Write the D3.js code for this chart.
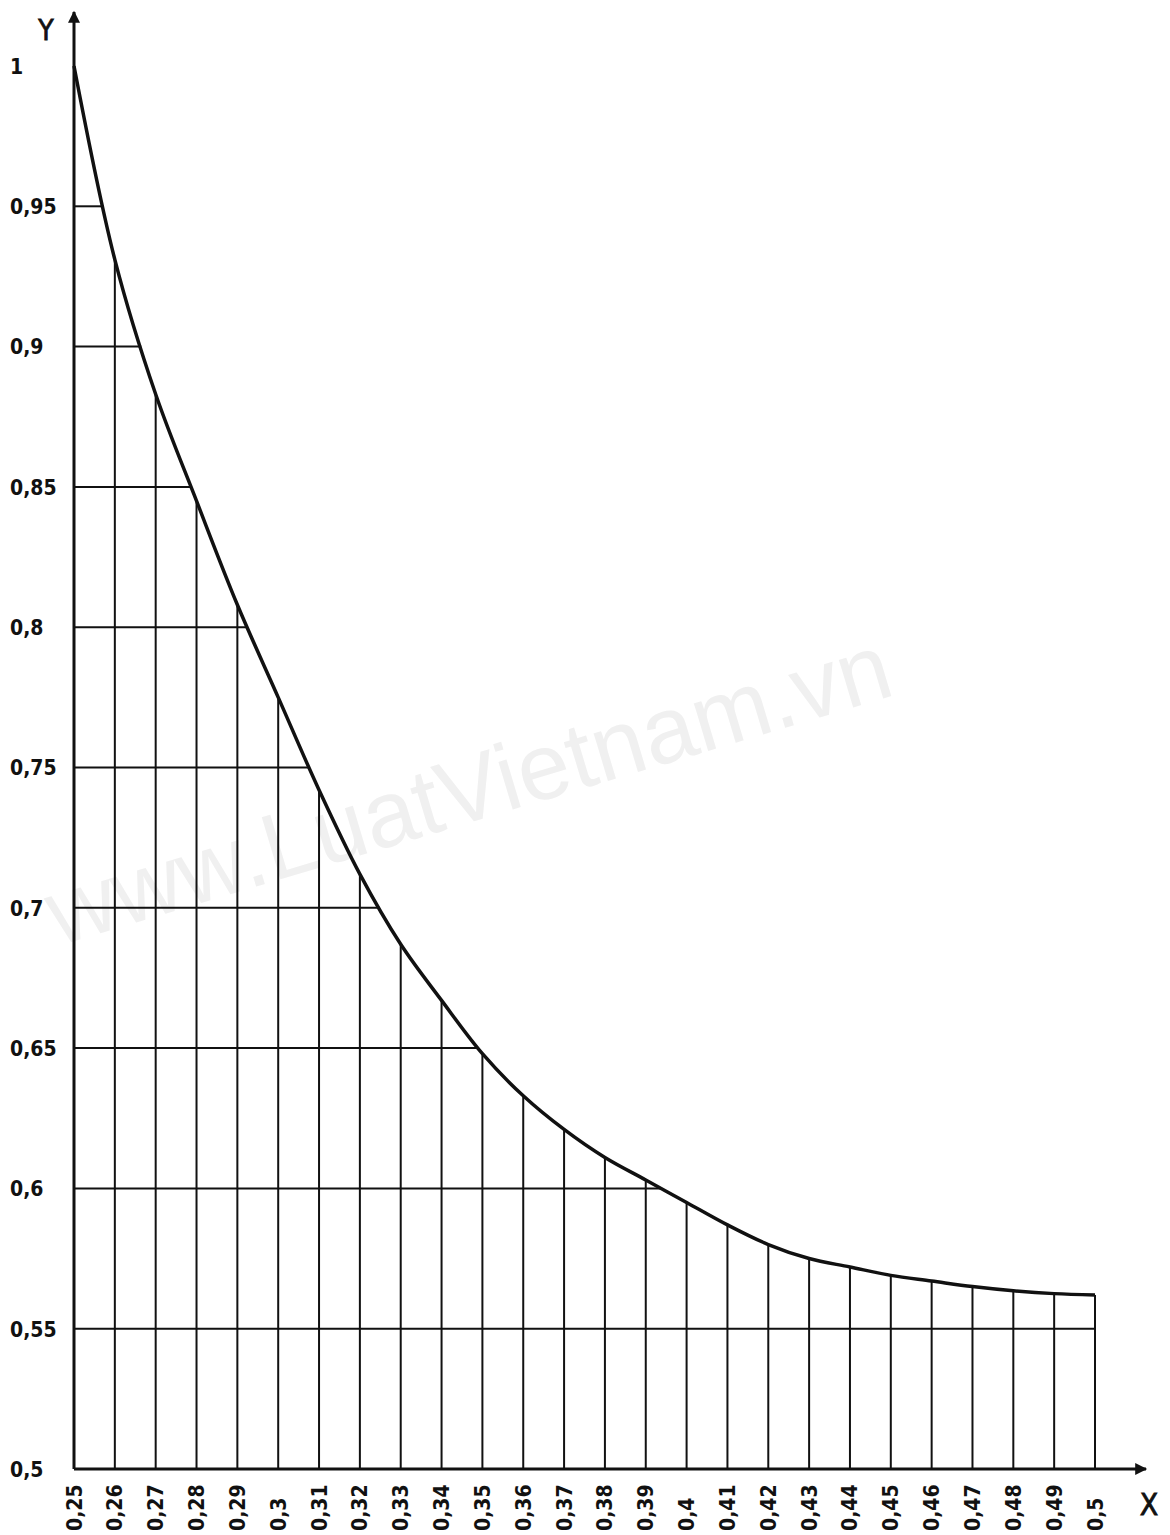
<!DOCTYPE html>
<html>
<head>
<meta charset="utf-8">
<script src="https://cdn.jsdelivr.net/npm/d3@7"></script>
<style>
  body { margin: 0; background: #fff; }
  svg { display: block; }
  .tick text { font-family: "DejaVu Sans Condensed", "DejaVu Sans", sans-serif; font-weight: bold; font-size: 21px; fill: #111; }
</style>
</head>
<body>
<svg id="chart"></svg>
<script>
// curve values
const xValues = [0.25, 0.26, 0.27, 0.28, 0.29, 0.3, 0.31, 0.32, 0.33, 0.34, 0.35, 0.36, 0.37,
  0.38, 0.39, 0.4, 0.41, 0.42, 0.43, 0.44, 0.45, 0.46, 0.47, 0.48, 0.49, 0.5];
const yValues = [1.0, 0.931, 0.883, 0.845, 0.808, 0.775, 0.742, 0.712, 0.687, 0.667, 0.648, 0.633, 0.621,
  0.611, 0.603, 0.595, 0.587, 0.58, 0.575, 0.572, 0.569, 0.567, 0.565, 0.5635, 0.5625, 0.562];
const yTicks = [0.5, 0.55, 0.6, 0.65, 0.7, 0.75, 0.8, 0.85, 0.9, 0.95, 1];
const xTicks = xValues;

const width = 1170, height = 1535;
const svg = d3.select("#chart").attr("width", width).attr("height", height);

const x = d3.scaleLinear().domain([0.25, 0.5]).range([74, 1095]);
const y = d3.scaleLinear().domain([0.5, 1]).range([1469, 66]);

const locale = d3.formatLocale({ decimal: ",", thousands: ".", grouping: [3], currency: ["", ""] });
const fmt = locale.format("~f");

const data = xValues.map((v, i) => ({ x: v, y: yValues[i] }));

// watermark
svg.append("text")
  .attr("transform", "translate(58,946) rotate(-16.7)")
  .attr("font-family", "Liberation Sans, Arial, sans-serif")
  .attr("font-size", 94)
  .attr("fill", "#f0f0f0")
  .text("www.LuatVietnam.vn");

// where the curve crosses a given y (linear between read points)
function crossX(v) {
  for (let i = 0; i < data.length - 1; i++) {
    const a = data[i], b = data[i + 1];
    if (v <= a.y && v >= b.y) {
      return a.x + (a.y - v) / (a.y - b.y) * (b.x - a.x);
    }
  }
  return 0.5; // below the curve's end: run to the last vertical
}

// horizontal lines from axis to curve
svg.append("g")
  .selectAll("line")
  .data(yTicks.filter(d => d > 0.5 && d < 1))
  .enter()
  .append("line")
  .attr("x1", x(0.25))
  .attr("x2", d => x(crossX(d)))
  .attr("y1", d => y(d))
  .attr("y2", d => y(d))
  .attr("stroke", "#111")
  .attr("stroke-width", 2);

// vertical lines from axis to curve
svg.append("g")
  .selectAll("line")
  .data(data.slice(1))
  .enter()
  .append("line")
  .attr("x1", d => x(d.x))
  .attr("x2", d => x(d.x))
  .attr("y1", y(0.5))
  .attr("y2", d => y(d.y))
  .attr("stroke", "#111")
  .attr("stroke-width", 2);

// curve
const line = d3.line()
  .x(d => x(d.x))
  .y(d => y(d.y))
  .curve(d3.curveCatmullRom.alpha(0.5));

svg.append("path")
  .datum(data)
  .attr("d", line)
  .attr("fill", "none")
  .attr("stroke", "#111")
  .attr("stroke-width", 3.5)
  .attr("stroke-linejoin", "round");

// arrow marker
svg.append("defs")
  .append("marker")
  .attr("id", "arrow")
  .attr("viewBox", "0 0 10 10")
  .attr("refX", 9)
  .attr("refY", 5)
  .attr("markerWidth", 5)
  .attr("markerHeight", 4)
  .attr("markerUnits", "strokeWidth")
  .attr("orient", "auto")
  .append("path")
  .attr("d", "M 0 0 L 10 5 L 0 10 z")
  .style("fill", "#111");

// axes lines
svg.append("line")
  .attr("x1", x(0.25)).attr("y1", y(0.5))
  .attr("x2", x(0.25)).attr("y2", 12)
  .attr("stroke", "#111").attr("stroke-width", 3)
  .attr("marker-end", "url(#arrow)");

svg.append("line")
  .attr("x1", x(0.25)).attr("y1", y(0.5))
  .attr("x2", 1146).attr("y2", y(0.5))
  .attr("stroke", "#111").attr("stroke-width", 3)
  .attr("marker-end", "url(#arrow)");

// y axis labels
const yAxis = svg.append("g")
  .attr("transform", `translate(${x(0.25)},0)`)
  .call(d3.axisLeft(y).tickValues(yTicks).tickSize(0).tickFormat(fmt));
yAxis.select(".domain").remove();
yAxis.selectAll("text")
  .attr("text-anchor", "start")
  .attr("x", 10 - x(0.25))
  .attr("dy", "0.35em");

// x axis labels, rotated, reading upward
const xAxis = svg.append("g")
  .attr("transform", `translate(0,${y(0.5)})`)
  .call(d3.axisBottom(x).tickValues(xTicks).tickSize(0).tickFormat(fmt));
xAxis.select(".domain").remove();
xAxis.selectAll("text")
  .attr("text-anchor", "start")
  .attr("y", 0)
  .attr("dy", 0)
  .attr("transform", "translate(7,62) rotate(-90)");

// axis names
svg.append("text")
  .attr("x", 46).attr("y", 40)
  .attr("text-anchor", "middle")
  .attr("font-family", "DejaVu Sans Condensed, DejaVu Sans, sans-serif")
  .attr("font-size", 28)
  .attr("fill", "#111")
  .attr("stroke", "#111")
  .attr("stroke-width", 0.8)
  .text("Y");

svg.append("text")
  .attr("x", 1149).attr("y", 1515)
  .attr("text-anchor", "middle")
  .attr("font-family", "DejaVu Sans Condensed, DejaVu Sans, sans-serif")
  .attr("font-size", 30)
  .attr("fill", "#111")
  .attr("stroke", "#111")
  .attr("stroke-width", 0.8)
  .text("X");
</script>
</body>
</html>
